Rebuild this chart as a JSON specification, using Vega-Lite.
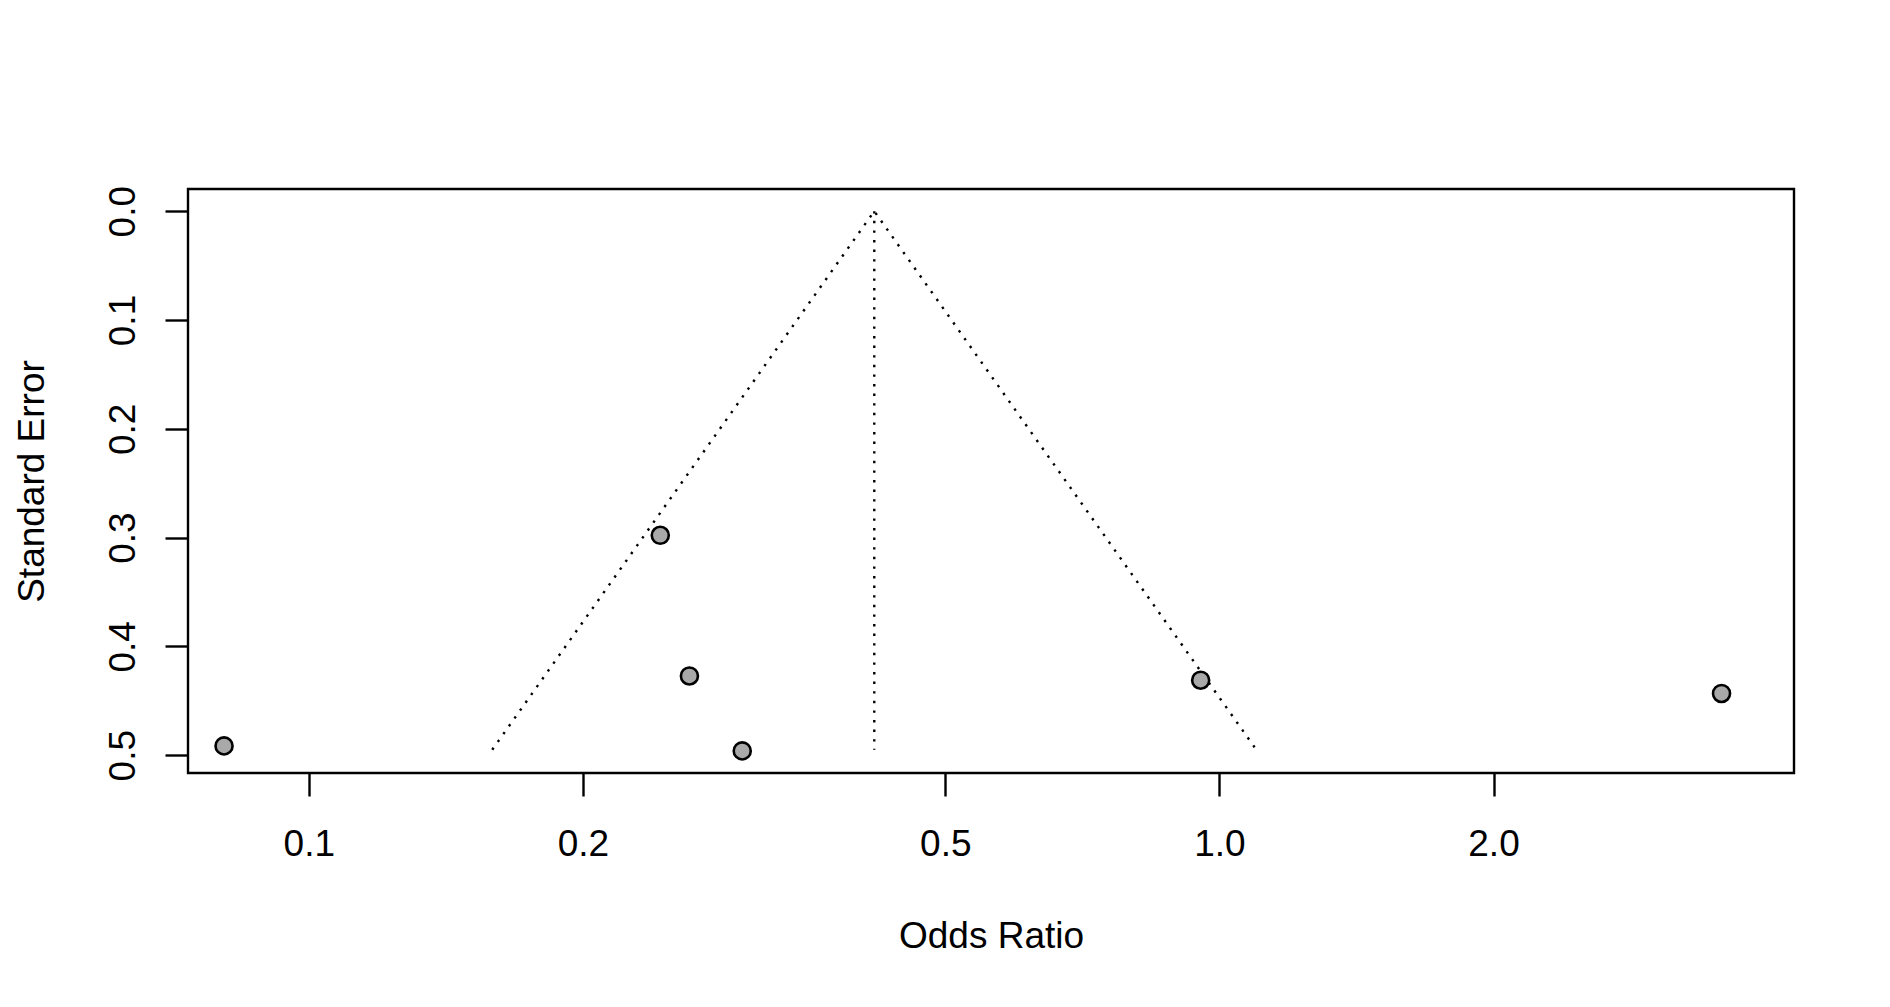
{
  "$schema": "https://vega.github.io/schema/vega-lite/v6.json",
  "autosize": {"type": "none"},
  "padding": {"left": 188, "top": 189, "right": 96, "bottom": 234},
  "width": 1606,
  "height": 584,
  "background": "white",
  "datasets": {
    "studies": [
      {"or": 0.0807, "se": 0.4915},
      {"or": 0.2432, "se": 0.2979},
      {"or": 0.2618, "se": 0.4272},
      {"or": 0.2992, "se": 0.4961},
      {"or": 0.9537, "se": 0.4311},
      {"or": 3.56, "se": 0.4433}
    ],
    "funnel": [
      {"line": "funnel", "ord": 1, "or": 0.159, "se": 0.495},
      {"line": "funnel", "ord": 2, "or": 0.4178, "se": 0.0},
      {"line": "funnel", "ord": 3, "or": 1.098, "se": 0.495},
      {"line": "center", "ord": 1, "or": 0.4178, "se": 0.0},
      {"line": "center", "ord": 2, "or": 0.4178, "se": 0.495}
    ]
  },
  "config": {
    "view": {"stroke": "black", "strokeWidth": 2.4},
    "axis": {
      "domain": false,
      "grid": false,
      "ticks": true,
      "tickColor": "black",
      "tickWidth": 2.4,
      "tickSize": 23,
      "labelFont": "Liberation Sans",
      "labelFontSize": 37,
      "labelColor": "black",
      "labelOverlap": false,
      "labelBound": false,
      "labelFlush": false,
      "titleFont": "Liberation Sans",
      "titleFontSize": 37,
      "titleFontWeight": "normal",
      "titleColor": "black"
    }
  },
  "layer": [
    {
      "data": {"name": "funnel"},
      "mark": {"type": "line", "color": "black", "strokeWidth": 2.4, "strokeDash": [2.4, 7.2], "strokeCap": "butt"},
      "encoding": {
        "x": {"field": "or", "type": "quantitative"},
        "y": {"field": "se", "type": "quantitative"},
        "detail": {"field": "line"},
        "order": {"field": "ord"}
      }
    },
    {
      "data": {"name": "studies"},
      "mark": {"type": "point", "shape": "circle", "filled": false, "fill": "#a9a9a9", "fillOpacity": 1, "stroke": "black", "strokeWidth": 2.6, "opacity": 1, "size": 290},
      "encoding": {
        "x": {
          "field": "or", "type": "quantitative",
          "scale": {"type": "log", "domain": [0.07367, 4.276], "nice": false, "zero": false},
          "axis": {
            "values": [0.1, 0.2, 0.5, 1, 2],
            "format": ".1f",
            "labelBaseline": "alphabetic",
            "labelPadding": 59.5,
            "title": "Odds Ratio",
            "titleBaseline": "alphabetic",
            "titleX": 803,
            "titleY": 174
          }
        },
        "y": {
          "field": "se", "type": "quantitative",
          "scale": {"domain": [-0.0204, 0.5164], "reverse": true, "nice": false, "zero": false},
          "axis": {
            "values": [0, 0.1, 0.2, 0.3, 0.4, 0.5],
            "format": ".1f",
            "labelAngle": -90,
            "labelAlign": "center",
            "labelBaseline": "alphabetic",
            "labelPadding": 31,
            "title": "Standard Error",
            "titleAngle": -90,
            "titleBaseline": "alphabetic",
            "titleAlign": "center",
            "titleX": -144.5,
            "titleY": 292
          }
        }
      }
    }
  ]
}
